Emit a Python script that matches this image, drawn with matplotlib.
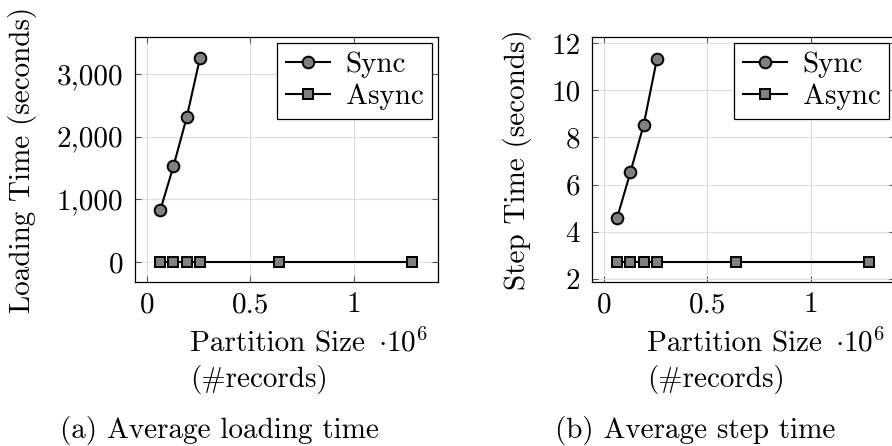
import matplotlib
matplotlib.use("Agg")
import matplotlib.pyplot as plt
from matplotlib.ticker import FuncFormatter

plt.rcParams['font.family'] = ['cmr10', 'DejaVu Serif']
plt.rcParams['mathtext.fontset'] = 'cm'
plt.rcParams['axes.formatter.use_mathtext'] = True
plt.rcParams['axes.unicode_minus'] = False

# ---- data ----
sync_sizes = [64000, 128000, 192000, 256000]
async_sizes = [64000, 128000, 192000, 256000, 640000, 1280000]
load_sync = [825, 1530, 2310, 3255]
load_async = [5, 5, 5, 5, 5, 5]
step_sync = [4.6, 6.54, 8.55, 11.35]
step_async = [2.7, 2.7, 2.7, 2.7, 2.7, 2.7]
series_names = ["Sync", "Async"]
ylabels = ["Loading Time (seconds)", "Step Time (seconds)"]
captions = ["(a) Average loading time", "(b) Average step time"]
xlabel_lines = ["Partition Size", "(#records)"]
xticks = [0, 0.5, 1]
xticklabels = ["0", "0.5", "1"]
yticks_load = [0, 1000, 2000, 3000]
yticks_step = [2, 4, 6, 8, 10, 12]

W, H = 892, 446
FS = 21
fig = plt.figure(figsize=(W / 100, H / 100), dpi=100)

def fx(px):
    return px / W

def fy(py):
    return 1 - py / H

ax_top, ax_bot = 37, 282
ax_w = 303
lefts = [135, 592]
ylims = [(-319, 3589), (1.86, 12.27)]
panels = [(load_sync, load_async, yticks_load), (step_sync, step_async, yticks_step)]

for i, (l, (ys, ya, yt)) in enumerate(zip(lefts, panels)):
    ax = fig.add_axes([fx(l), fy(ax_bot), fx(ax_w), (ax_bot - ax_top) / H])
    xs = [v / 1e6 for v in sync_sizes]
    xa = [v / 1e6 for v in async_sizes]
    ax.plot(xs, ys, color='black', lw=1.5, marker='o', ms=8.4, mfc='#808080',
            mec='black', mew=1.4, label=series_names[0], zorder=3)
    ax.plot(xa, ya, color='black', lw=1.5, marker='s', ms=7.8, mfc='#808080',
            mec='black', mew=1.4, label=series_names[1], zorder=3)
    ax.set_xlim(-0.058, 1.406)
    ax.set_ylim(*ylims[i])
    ax.set_xticks(xticks)
    ax.set_xticklabels(xticklabels)
    ax.set_yticks(yt)
    if i == 0:
        ax.yaxis.set_major_formatter(FuncFormatter(lambda v, p: f"{int(v):,}"))
    else:
        ax.yaxis.set_major_formatter(FuncFormatter(lambda v, p: f"{int(v)}"))
    ax.grid(True, color='#dddddd', lw=0.8)
    ax.set_axisbelow(True)
    ax.tick_params(direction='in', top=True, right=True, length=4.5, width=0.8,
                   color='#555555', labelsize=FS)
    ax.tick_params(axis='y', pad=8.5)
    ax.tick_params(axis='x', pad=7)
    for s in ax.spines.values():
        s.set_linewidth(0.9)
        s.set_color('black')
    leg = ax.legend(loc='upper right', fontsize=FS, frameon=True, fancybox=False,
                    framealpha=1, edgecolor='black', handlelength=1.5,
                    handletextpad=0.55, borderaxespad=0.2, borderpad=0.3,
                    labelspacing=0.2)
    leg.get_frame().set_linewidth(0.9)

    # y label
    fig.text(fx(l - 112 if i == 0 else l - 74), fy((ax_top + ax_bot) / 2), ylabels[i],
             rotation=90, ha='center', va='center', fontsize=FS)
    # x label (two left-aligned lines)
    fig.text(fx(l + 55), fy(352), xlabel_lines[0], ha='left', va='baseline', fontsize=FS)
    fig.text(fx(l + 55), fy(387), xlabel_lines[1], ha='left', va='baseline', fontsize=FS)
    fig.text(fx(l + 243), fy(352), r'$\cdot 10^{6}$', ha='left', va='baseline',
             fontsize=FS)

fig.text(fx(60), fy(438), captions[0], ha='left', va='baseline', fontsize=FS)
fig.text(fx(555), fy(438), captions[1], ha='left', va='baseline', fontsize=FS)

fig.savefig("out.png", dpi=100)
